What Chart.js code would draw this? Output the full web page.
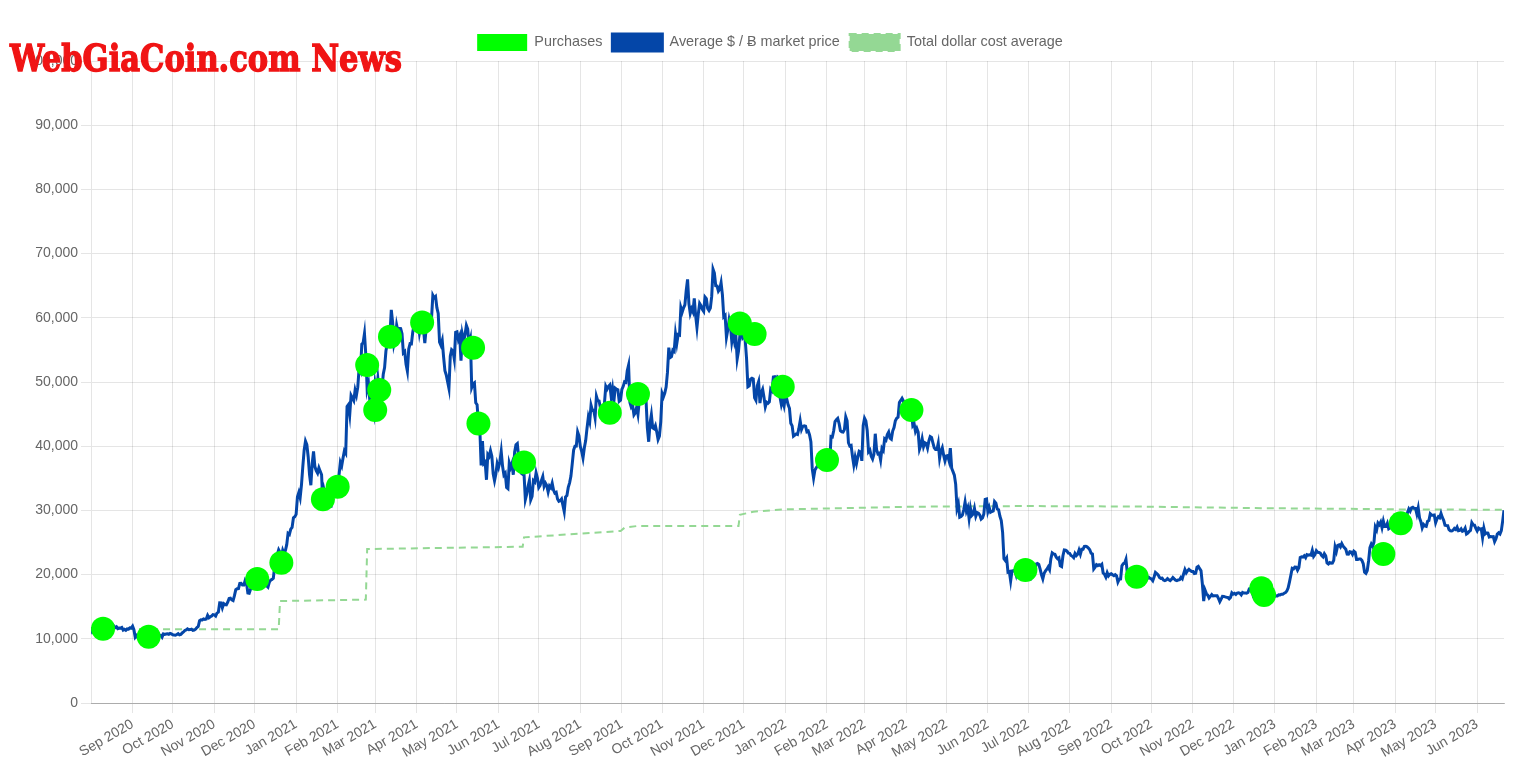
<!DOCTYPE html>
<html><head><meta charset="utf-8">
<script src="https://cdn.jsdelivr.net/npm/chart.js@4.4.1/dist/chart.umd.min.js"></script>
<style>
html,body{margin:0;padding:0;background:#fff;}
#wrap{position:relative;width:1516px;height:778px;overflow:hidden;}
#c{position:absolute;left:0;top:0;}
#wm{position:absolute;left:10px;top:40px;font-family:"DejaVu Serif",serif;font-weight:bold;font-size:37px;line-height:1;color:#f01414;-webkit-text-stroke:1.4px #f01414;white-space:nowrap;transform-origin:0 0;}
#err{position:absolute;left:600px;top:300px;color:#f00;font:20px sans-serif;}
</style></head><body>
<div id="wrap"><canvas id="c" width="1516" height="778"></canvas><div id="wm">WebGiaCoin.com News</div><div id="err"></div></div>
<script>
// ---------- DATA ----------
const axisStart = '2020-08-01';
const axisEnd = '2023-06-21';

const monthLabels = ['Sep 2020','Oct 2020','Nov 2020','Dec 2020','Jan 2021','Feb 2021','Mar 2021','Apr 2021','May 2021','Jun 2021','Jul 2021','Aug 2021','Sep 2021','Oct 2021','Nov 2021','Dec 2021','Jan 2022','Feb 2022','Mar 2022','Apr 2022','May 2022','Jun 2022','Jul 2022','Aug 2022','Sep 2022','Oct 2022','Nov 2022','Dec 2022','Jan 2023','Feb 2023','Mar 2023','Apr 2023','May 2023','Jun 2023'];

const purchaseDates = ['2020-08-10','2020-09-13','2020-12-03','2020-12-21','2021-01-21','2021-02-01','2021-02-23','2021-03-01','2021-03-04','2021-03-12','2021-04-05','2021-05-13','2021-05-17','2021-06-20','2021-08-23','2021-09-13','2021-11-28','2021-12-09','2021-12-30','2022-02-01','2022-04-05','2022-06-29','2022-09-20','2022-12-22','2022-12-24','2023-03-23','2023-04-05'];
const purchaseValues = [11570,10320,19310,21850,31720,33690,52630,45620,48740,57040,59280,55330,43550,37480,45200,48120,59120,57460,49250,37840,45620,20710,19670,17860,16820,23200,27980];

// daily average market price, one value per day starting at priceStartDate
const priceStartDate = '2020-08-01';
const dailyPrices = [
// 2020-08
11803,11071,11220,11191,11745,11764,11601,11755,11676,11878,11411,11585,11785,11766,11865,11892,12254,11991,11758,11878,11592,11682,11664,11774,11366,11488,11323,11542,11507,11711,11680,
// 2020-09
11970,11414,10245,10511,10169,10280,10370,10131,10242,10364,10400,10442,10323,10680,10796,10974,10948,10944,11094,10938,10462,10538,10246,10760,10692,10750,10775,10709,10844,10784,
// 2020-10
10619,10575,10549,10669,10793,10604,10668,10915,11065,11296,11384,11555,11425,11430,11505,11319,11360,11495,11742,11916,12823,12965,12931,13108,13031,13075,13654,13272,13437,13547,13781,
// 2020-11
13737,13550,14024,14146,15591,15580,14834,15479,15332,15290,15701,16277,16318,16068,15956,16716,17645,17804,17817,18621,18642,18370,18365,19107,18732,17150,17108,17718,18177,19625,
// 2020-12
18803,19202,19445,18699,19155,19345,19191,18321,18554,18264,18058,18803,19142,19246,19417,21311,22805,23137,23869,23477,22803,23783,23241,23735,24664,26437,26272,27084,27362,28841,29002,
// 2021-01
29374,32127,32782,31971,33992,36824,39371,40797,40254,38356,35566,33923,37316,39187,36825,36178,35792,36630,36070,35548,30825,33005,32067,32289,32366,32569,30432,33466,34316,34269,33115,
// 2021-02
33537,35510,37472,36926,38144,39266,38903,46196,46481,44918,47909,47505,47105,48717,47945,49199,52149,51679,55888,56100,57539,54207,48825,49705,47093,46340,46188,45137,
// 2021-03
49631,48378,50538,48561,48927,48912,51206,52246,54824,56008,57805,57332,61243,59302,55907,56804,58870,57858,58346,58313,57523,54529,54738,52774,51704,55137,55974,55947,57750,58918,58918,
// 2021-04
59095,59384,57604,58758,59057,58192,56048,58323,58245,59794,60204,59893,63504,63109,63314,61572,60683,56216,55724,56473,53906,51763,51093,50050,49004,54021,55033,54824,53555,57750,
// 2021-05
57828,56631,57200,53333,57424,56396,57356,58804,58232,55859,56704,49150,49716,49880,46760,46456,43537,42909,37002,40782,37304,37536,34770,38705,38402,39294,38436,35697,34616,35678,37333,
// 2021-06
36685,37575,39187,36869,35520,35797,33552,33380,37389,36702,37334,35553,39097,40219,40406,38347,38053,35787,35615,35698,31676,32506,33723,34662,31637,32186,34650,34434,35867,35041,
// 2021-07
33572,33897,34668,35287,33746,34235,33855,32877,33798,33520,34240,33155,32702,32822,31780,31421,31533,31796,30817,29807,32110,32313,33581,34292,35350,37337,39406,39995,40008,42235,41626,
// 2021-08
39974,39201,38152,39747,40869,42816,44555,43798,46365,45585,45593,44428,47793,47096,47047,46004,44695,44801,46717,49339,48905,49321,49546,47706,48960,46942,49058,48897,48807,46991,47166,
// 2021-09
48847,49327,50025,49944,51753,52633,46811,46091,46391,44883,45201,46063,44963,47092,48177,47784,47268,48278,47261,42844,40694,43575,44896,42840,42717,43208,42236,41035,41564,43791,
// 2021-10
48226,47686,48278,49204,51495,55362,53806,53967,54968,54772,57485,56041,57402,57322,61594,60888,61553,62026,64262,65993,62210,60693,61394,60931,63039,60364,58483,60622,62228,61888,61318,
// 2021-11
61004,63227,62970,61453,61126,61527,63327,67566,66971,64995,64950,64155,64469,65466,63558,60162,60369,56943,58119,59697,58731,56289,57570,56281,57274,53570,54816,57249,57807,56907,
// 2021-12
57230,56509,53664,49254,49396,50441,50589,50471,47546,47140,49390,50053,46702,48343,48864,47632,46131,46834,46681,46914,48897,48622,50784,50822,50429,50809,50640,47588,46444,47178,46306,
// 2022-01
47686,47345,46458,45897,43569,43160,41558,41734,41911,41821,42736,43949,42591,43099,43177,43113,42250,42375,41744,40680,36457,35030,36276,36654,36954,36852,37138,37784,38138,37917,38483,
// 2022-02
38743,36952,37154,41500,41441,42412,43840,44118,44338,43565,42407,42244,42197,42586,44575,43961,40538,40030,40122,38431,37075,38286,37296,38332,39214,39105,37710,43193,
// 2022-03
44354,43925,42452,39138,39400,38420,37988,38730,41941,39439,38795,38905,37850,39666,39338,41143,40951,41801,42191,41247,41077,42358,42892,43961,44349,44501,46821,47128,47465,47063,45539,
// 2022-04
46282,45869,46453,46623,45555,43207,43503,42287,42782,42207,39521,40127,41166,39936,40553,40425,39716,40827,41502,41374,40527,39741,39470,39469,40458,38117,39241,39773,38609,37714,
// 2022-05
38470,38529,37750,39698,36575,36040,35501,34060,30296,31023,28936,29047,29283,30101,31305,29862,30425,28720,30314,29200,29432,30323,29098,29655,29562,29268,28627,28814,29445,31726,31792,
// 2022-06
29800,30467,29705,29833,29907,31371,31125,30214,30112,29084,28424,26575,22487,22206,22572,20381,20471,19017,20553,20599,20710,19988,21086,21232,21502,21028,20735,20281,20105,19785,
// 2022-07
19270,19243,19298,20232,20191,20548,21638,21732,21592,20860,19970,19323,20212,20569,20837,21190,20780,22486,23389,23231,23164,22714,22465,22609,21361,21239,22930,23843,23804,23656,23336,
// 2022-08
23314,22978,22846,22630,23289,22962,23175,23810,23164,23947,23957,24402,24424,24319,24136,23883,23336,23213,20877,21166,21534,21398,21528,21395,21600,20260,20041,19616,20297,19797,20050,
// 2022-09
20127,19969,19833,19987,19812,18837,19291,19330,21381,21681,21770,22371,20297,20242,19702,19773,20127,19420,19545,18891,18548,19413,19297,18937,18803,19223,19084,19413,19592,19423,
// 2022-10
19311,19044,19623,20337,20161,19955,19546,19417,19446,19141,19052,19157,19382,19186,19068,19268,19550,19334,19140,19054,19172,19208,19567,19345,20095,20771,20285,20595,20818,20635,20495,
// 2022-11
20485,20159,20209,21147,21282,20926,20602,18541,15880,17586,17034,16799,16353,16618,16884,16669,16687,16697,16711,16291,15787,16189,16610,16604,16521,16464,16444,16217,16444,17168,
// 2022-12
16967,17088,16908,17130,17168,17088,16837,17224,17128,17128,17105,17206,17782,17815,17365,16647,16777,16739,16438,16895,16824,16821,16778,16841,16832,16919,16717,16552,16642,16602,16547,
// 2023-01
16625,16688,16679,16863,16836,16951,16955,17091,17196,17446,17934,18869,19910,20976,20880,21169,21161,20688,21086,22676,22777,22720,22934,22636,23117,23032,23078,23031,23774,22840,23139,
// 2023-02
23723,23471,23449,23331,22955,22760,23264,22940,21819,21651,21870,21788,21809,22220,24307,23623,24565,24641,24327,24829,24436,24189,23947,23198,23175,23561,23523,23147,
// 2023-03
23646,23475,22362,22353,22435,22429,22219,21718,20363,20187,20633,22163,24197,24746,24375,25052,27423,26965,28038,27768,28175,27307,28333,27493,27494,27994,27139,27268,28348,28033,28478,
// 2023-04
28411,28199,27790,28168,28177,28044,27925,27947,28333,29653,30235,29892,30399,30485,30318,30315,29446,30397,28822,28245,27276,27817,27591,27525,28307,28422,29474,29268,29233,29268,
// 2023-05
28091,28680,29006,28847,29534,28904,28454,27695,27654,27621,27000,26804,26784,26931,27192,27036,27399,26833,26890,27130,26753,26851,27225,26334,26476,26719,26868,28085,27745,27702,27219,
// 2023-06
26819,27249,27075,27119,25760,27238,26345,26508,26480,25851,25940,25902,25918,25124,25576,26327,26511,26336,26851,28327,30027
];

const dcaDates = ['2020-08-10','2020-09-13','2020-12-19','2020-12-20','2021-02-22','2021-02-23','2021-06-19','2021-06-20','2021-08-31','2021-09-03','2021-09-12','2021-11-27','2021-11-28','2021-12-08','2021-12-30','2022-01-31','2022-04-04','2022-06-29','2022-09-20','2022-12-22','2023-03-23','2023-04-05','2023-06-21'];
const dcaValues = [11680,11480,11480,15880,16100,23980,24340,25800,26800,27300,27560,27560,29300,29800,30150,30300,30570,30680,30600,30350,30200,30150,30100];

// ---------- HELPERS ----------
const ORIGIN = Date.UTC(2020, 7, 1);
function toDay(s) { const p = s.split('-').map(Number); return (Date.UTC(p[0], p[1] - 1, p[2]) - ORIGIN) / 86400000; }
const MON = {Jan:0,Feb:1,Mar:2,Apr:3,May:4,Jun:5,Jul:6,Aug:7,Sep:8,Oct:9,Nov:10,Dec:11};
const tickDays = monthLabels.map(l => { const p = l.split(' '); return (Date.UTC(+p[1], MON[p[0]], 1) - ORIGIN) / 86400000; });
const zip = (ds, vs) => ds.map((d, i) => ({x: toDay(d), y: vs[i]}));
const priceStart = toDay(priceStartDate);
const priceData = dailyPrices.map((v, i) => ({x: priceStart + i, y: v}));
if (priceStart + dailyPrices.length - 1 !== toDay(axisEnd)) {
  document.getElementById('err').textContent = 'daily length ' + dailyPrices.length;
}

const BLUE = 'rgb(4,70,168)';
const LIME = '#00ff00';
const LGREEN = 'rgb(148,216,148)';

Chart.defaults.font.family = '"Liberation Sans", Arial, Helvetica, sans-serif';
Chart.defaults.color = '#666';

new Chart(document.getElementById('c'), {
  type: 'line',
  data: {
    datasets: [
      { label: 'Purchases', data: zip(purchaseDates, purchaseValues), showLine: false,
        pointRadius: 12, pointHoverRadius: 12, pointBackgroundColor: LIME, pointBorderWidth: 0,
        backgroundColor: LIME, borderColor: LIME, borderWidth: 0 },
      { label: 'Average $ / Ƀ market price', data: priceData,
        borderColor: BLUE, backgroundColor: BLUE, borderWidth: 3, pointRadius: 0, tension: 0, fill: false },
      { label: 'Total dollar cost average', data: zip(dcaDates, dcaValues),
        borderColor: LGREEN, backgroundColor: LGREEN, borderWidth: 2, borderDash: [7, 5], pointRadius: 0, tension: 0, fill: false }
    ]
  },
  options: {
    responsive: false, animation: false, events: [],
    layout: { padding: { left: 34, right: 10, top: 24, bottom: 0 } },
    plugins: {
      legend: { labels: { boxWidth: 50, boxHeight: 17, padding: 10, font: { size: 14.4 }, color: '#666' } },
      tooltip: { enabled: false }
    },
    scales: {
      x: {
        type: 'linear', min: toDay(axisStart), max: toDay(axisEnd),
        afterBuildTicks: s => { s.ticks = tickDays.map(v => ({ value: v })); },
        afterFit: s => { s.height = 75; },
        ticks: { autoSkip: false, minRotation: 30, maxRotation: 30, padding: 3, font: { size: 14 },
                 callback: (v, i) => monthLabels[i] },
        grid: { tickLength: 10, color: 'rgba(0,0,0,0.1)' },
        border: { color: 'rgba(0,0,0,0.25)' }
      },
      y: {
        min: 0, max: 100000,
        afterFit: s => { s.width = 57; },
        ticks: { stepSize: 10000, padding: 3, font: { size: 14 }, callback: v => Number(v).toLocaleString('en-US') },
        grid: { tickLength: 10, color: 'rgba(0,0,0,0.1)' },
        border: { color: 'rgba(0,0,0,0.1)' }
      }
    }
  }
});

// watermark fit
const wm = document.getElementById('wm');
const w = wm.getBoundingClientRect().width;
wm.style.transform = 'scaleX(' + (392 / w) + ')';
</script>
</body></html>
